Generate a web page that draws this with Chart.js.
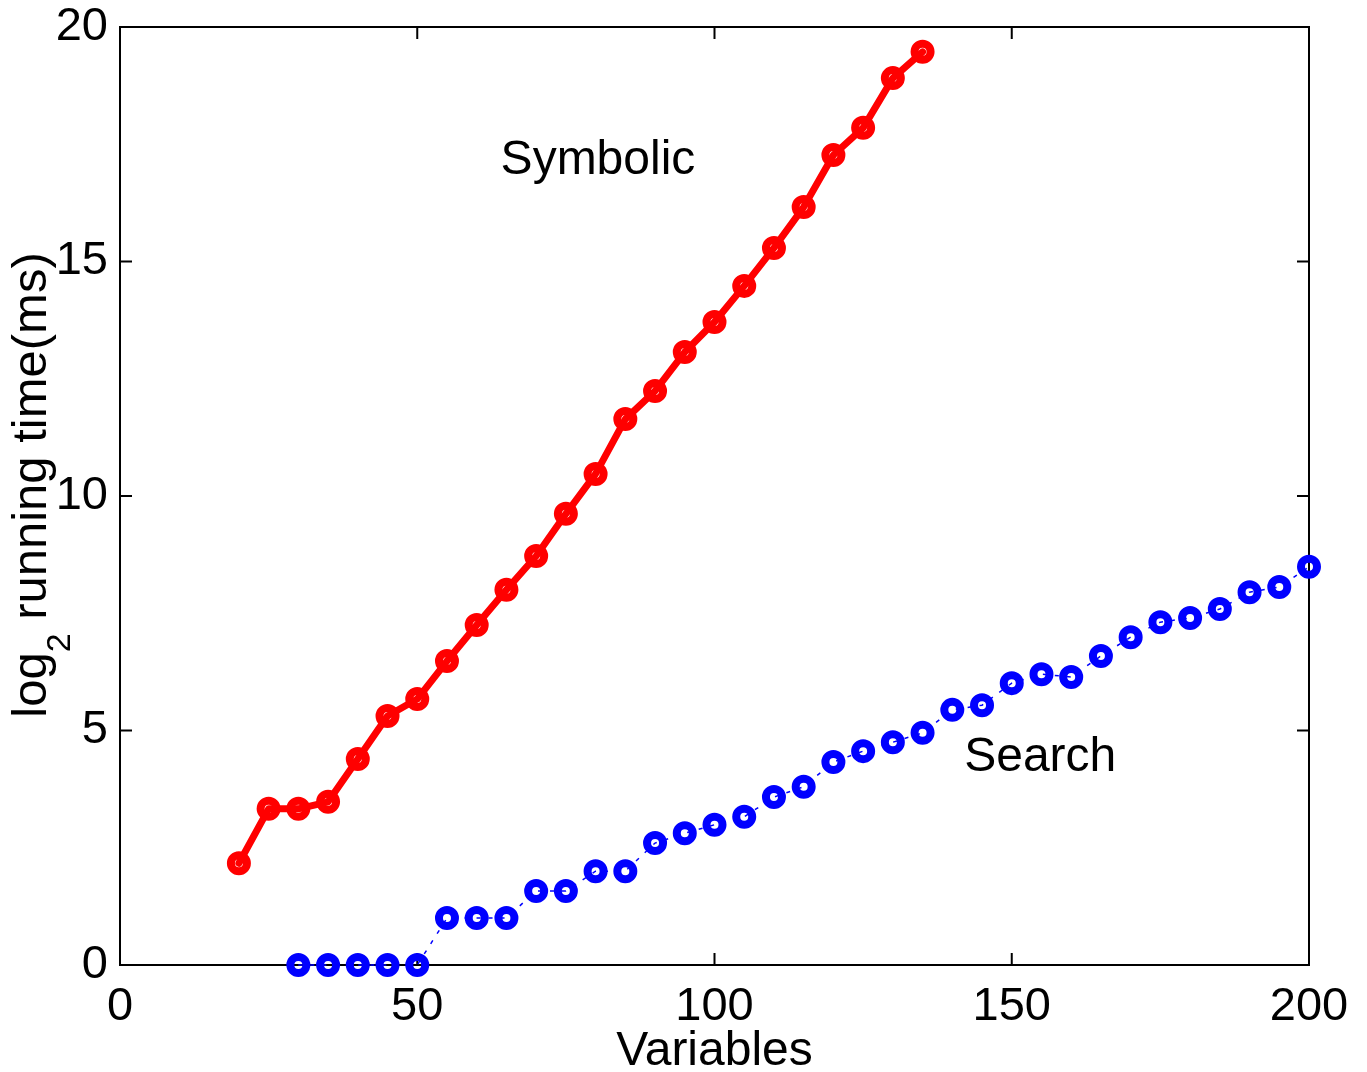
<!DOCTYPE html>
<html>
<head>
<meta charset="utf-8">
<title>Running time: symbolic vs search</title>
<script src="https://cdn.jsdelivr.net/npm/chart.js@4.4.1/dist/chart.umd.min.js"></script>
<style>
  html, body { margin: 0; padding: 0; background: #fff; }
  canvas { display: block; }
</style>
</head>
<body>
<canvas id="chart" width="1367" height="1072"></canvas>
<script>
// Problem sizes (number of variables)
const symbolicVars = [20, 25, 30, 35, 40, 45, 50, 55, 60, 65, 70, 75, 80, 85, 90, 95, 100, 105, 110, 115, 120, 125, 130, 135];
// log2 of running time (ms), symbolic method
const symbolicTime = [2.17, 3.33, 3.33, 3.48, 4.39, 5.31, 5.67, 6.48, 7.25, 8.0, 8.72, 9.62, 10.47, 11.64, 12.24, 13.07, 13.71, 14.48, 15.29, 16.16, 17.27, 17.85, 18.91, 19.47];

const searchVars = [30, 35, 40, 45, 50, 55, 60, 65, 70, 75, 80, 85, 90, 95, 100, 105, 110, 115, 120, 125, 130, 135, 140, 145, 150, 155, 160, 165, 170, 175, 180, 185, 190, 195, 200];
// log2 of running time (ms), search method
const searchTime = [0, 0, 0, 0, 0, 1.0, 1.0, 1.0, 1.58, 1.58, 2.0, 2.0, 2.6, 2.81, 2.99, 3.16, 3.58, 3.8, 4.33, 4.56, 4.75, 4.95, 5.44, 5.54, 6.01, 6.2, 6.14, 6.59, 6.99, 7.31, 7.4, 7.59, 7.95, 8.06, 8.49];

// Axis ticks
const xTicks = [0, 50, 100, 150, 200];
const yTicks = [0, 5, 10, 15, 20];

// In-plot series labels (data coordinates)
const seriesLabels = [
  { text: 'Symbolic', x: 80.4, y: 16.87, align: 'center' },
  { text: 'Search', x: 142.0, y: 4.14, align: 'left' }
];

const FONT = '"Liberation Sans", Arial, Helvetica, sans-serif';
const FONT_SIZE = 47;

const toXY = (xs, ys) => xs.map((x, i) => ({ x, y: ys[i] }));

// Box around the plot area with inward tick marks on all four sides
const boxPlugin = {
  id: 'matlabBox',
  beforeDatasetsDraw(chart) {
    const { ctx, chartArea: a, scales } = chart;
    const tl = 12;
    ctx.save();
    ctx.strokeStyle = '#000';
    ctx.lineWidth = 2;
    ctx.strokeRect(a.left, a.top, a.right - a.left, a.bottom - a.top);
    ctx.beginPath();
    xTicks.forEach(v => {
      const px = scales.x.getPixelForValue(v);
      ctx.moveTo(px, a.bottom); ctx.lineTo(px, a.bottom - tl);
      ctx.moveTo(px, a.top); ctx.lineTo(px, a.top + tl);
    });
    yTicks.forEach(v => {
      const py = scales.y.getPixelForValue(v);
      ctx.moveTo(a.left, py); ctx.lineTo(a.left + tl, py);
      ctx.moveTo(a.right, py); ctx.lineTo(a.right - tl, py);
    });
    ctx.stroke();
    ctx.restore();
  },
  afterDraw(chart) {
    const { ctx, chartArea: a, scales } = chart;
    ctx.save();
    ctx.fillStyle = '#000';
    ctx.textBaseline = 'alphabetic';
    ctx.font = `48px ${FONT}`;
    seriesLabels.forEach(l => {
      ctx.textAlign = l.align;
      ctx.fillText(l.text, scales.x.getPixelForValue(l.x), scales.y.getPixelForValue(l.y));
    });

    // Rotated y-axis title with subscript
    const mainSize = 49;
    const subSize = 34;
    const part1 = 'log';
    const sub = '2';
    const part2 = ' running time(ms)';
    ctx.font = `${mainSize}px ${FONT}`;
    const w1 = ctx.measureText(part1).width;
    const w3 = ctx.measureText(part2).width;
    ctx.font = `${subSize}px ${FONT}`;
    const w2 = ctx.measureText(sub).width;
    const total = w1 + w2 + w3;
    const cy = (a.top + a.bottom) / 2 - 11;
    const baseX = 46;
    ctx.translate(baseX, cy);
    ctx.rotate(-Math.PI / 2);
    ctx.textAlign = 'left';
    const x0 = -total / 2;
    ctx.font = `${mainSize}px ${FONT}`;
    ctx.fillText(part1, x0, 0);
    ctx.font = `${subSize}px ${FONT}`;
    ctx.fillText(sub, x0 + w1, 24);
    ctx.font = `${mainSize}px ${FONT}`;
    ctx.fillText(part2, x0 + w1 + w2, 0);
    ctx.restore();
  }
};

new Chart(document.getElementById('chart'), {
  type: 'line',
  data: {
    datasets: [
      {
        label: 'Symbolic',
        data: toXY(symbolicVars, symbolicTime),
        borderColor: '#ff0000',
        borderWidth: 7,
        borderJoinStyle: 'round',
        borderCapStyle: 'round',
        pointRadius: 8,
        pointBorderWidth: 8,
        pointBorderColor: '#ff0000',
        pointBackgroundColor: 'rgba(0,0,0,0)',
        pointHoverRadius: 8,
        tension: 0,
        clip: false,
        order: 1
      },
      {
        label: 'Search',
        data: toXY(searchVars, searchTime),
        borderColor: '#0000ff',
        borderWidth: 1.5,
        borderDash: [4, 8],
        pointRadius: 8,
        pointBorderWidth: 8,
        pointBorderColor: '#0000ff',
        pointBackgroundColor: 'rgba(0,0,0,0)',
        pointHoverRadius: 8,
        tension: 0,
        clip: false,
        order: 2
      }
    ]
  },
  options: {
    responsive: false,
    animation: false,
    devicePixelRatio: 1,
    layout: { padding: { left: 0, right: 58, top: 27, bottom: 0 } },
    plugins: {
      legend: { display: false },
      title: { display: false },
      tooltip: { enabled: false }
    },
    scales: {
      x: {
        type: 'linear',
        min: 0, max: 200,
        afterBuildTicks: s => { s.ticks = xTicks.map(v => ({ value: v })); },
        afterFit: s => { s.height = 107; s.paddingLeft = 0; s.paddingRight = 0; },
        grid: { display: false, drawTicks: false },
        border: { display: false },
        ticks: { color: '#000', font: { family: FONT, size: FONT_SIZE }, padding: 14, maxRotation: 0, autoSkip: false },
        title: { display: true, text: 'Variables', color: '#000', font: { family: FONT, size: 48, lineHeight: 0.85 }, padding: { top: 0, bottom: 0 } }
      },
      y: {
        type: 'linear',
        min: 0, max: 20,
        afterBuildTicks: s => { s.ticks = yTicks.map(v => ({ value: v })); },
        afterFit: s => { s.width = 120; s.paddingTop = 0; s.paddingBottom = 0; },
        grid: { display: false, drawTicks: false },
        border: { display: false },
        ticks: { color: '#000', font: { family: FONT, size: FONT_SIZE }, padding: 12, autoSkip: false }
      }
    }
  },
  plugins: [boxPlugin]
});
</script>
</body>
</html>
